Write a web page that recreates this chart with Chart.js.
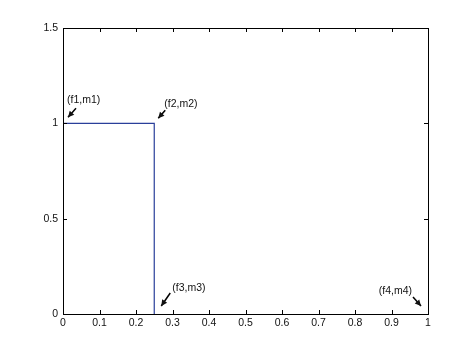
<!DOCTYPE html>
<html>
<head>
<meta charset="utf-8">
<script src="https://cdn.jsdelivr.net/npm/chart.js@4"></script>
<style>
  html, body { margin: 0; padding: 0; background: #fff; }
  #wrap { width: 474px; height: 354px; }
</style>
</head>
<body>
<div id="wrap"><canvas id="plot"></canvas></div>
<script>
// step curve
const freqs = [0, 0.25, 0.25];
const mags = [1, 1, 0];

// labelled corner points
const pointLabels = ['(f1,m1)', '(f2,m2)', '(f3,m3)', '(f4,m4)'];
const pointFreqs = [0, 0.25, 0.25, 1];
const pointMags = [1, 1, 0, 0];

const xTicks = [0, 0.1, 0.2, 0.3, 0.4, 0.5, 0.6, 0.7, 0.8, 0.9, 1];
const yTicks = [0, 0.5, 1, 1.5];

// text / arrow placement relative to each point (pixels)
const labelStyle = [
  { tx: 4, ty: -23, align: 'left', ax0: 13, ay0: -15, ax1: 5, ay1: -6 },
  { tx: 10, ty: -19, align: 'left', ax0: 11, ay0: -13, ax1: 4, ay1: -5 },
  { tx: 18, ty: -26, align: 'left', ax0: 16, ay0: -21, ax1: 7, ay1: -8 },
  { tx: -16, ty: -23, align: 'right', ax0: -15, ay0: -17, ax1: -7, ay1: -8 }
];

const matlabBox = {
  id: 'matlabBox',
  afterDraw(chart) {
    const ctx = chart.ctx;
    const a = chart.chartArea;
    const xs = chart.scales.x, ys = chart.scales.y;
    ctx.save();
    ctx.strokeStyle = '#000';
    ctx.lineWidth = 1;
    ctx.strokeRect(Math.round(a.left) + 0.5, Math.round(a.top) + 0.5,
      Math.round(a.right - a.left), Math.round(a.bottom - a.top));
    ctx.beginPath();
    xTicks.forEach(v => {
      const px = Math.round(xs.getPixelForValue(v)) + 0.5;
      ctx.moveTo(px, a.bottom); ctx.lineTo(px, a.bottom - 4);
      ctx.moveTo(px, a.top); ctx.lineTo(px, a.top + 4);
    });
    yTicks.forEach(v => {
      const py = Math.round(ys.getPixelForValue(v)) + 0.5;
      ctx.moveTo(a.left, py); ctx.lineTo(a.left + 4, py);
      ctx.moveTo(a.right, py); ctx.lineTo(a.right - 4, py);
    });
    ctx.stroke();

    ctx.font = '10.5px "Liberation Sans", Arial, sans-serif';
    ctx.fillStyle = '#111';
    ctx.textBaseline = 'middle';
    pointLabels.forEach((lab, i) => {
      const px = xs.getPixelForValue(pointFreqs[i]);
      const py = ys.getPixelForValue(pointMags[i]);
      const s = labelStyle[i];
      ctx.textAlign = s.align;
      ctx.fillText(lab, px + s.tx, py + s.ty);
      const x0 = px + s.ax0, y0 = py + s.ay0, x1 = px + s.ax1, y1 = py + s.ay1;
      ctx.lineWidth = 1.5;
      ctx.beginPath(); ctx.moveTo(x0, y0); ctx.lineTo(x1, y1); ctx.stroke();
      const ang = Math.atan2(y1 - y0, x1 - x0);
      const h = 6, w = 3;
      ctx.beginPath();
      ctx.moveTo(x1, y1);
      ctx.lineTo(x1 - h * Math.cos(ang) + w * Math.sin(ang), y1 - h * Math.sin(ang) - w * Math.cos(ang));
      ctx.lineTo(x1 - h * Math.cos(ang) - w * Math.sin(ang), y1 - h * Math.sin(ang) + w * Math.cos(ang));
      ctx.closePath();
      ctx.fill();
    });
    ctx.restore();
  }
};

new Chart(document.getElementById('plot'), {
  type: 'line',
  data: {
    datasets: [{
      data: freqs.map((f, i) => ({ x: f, y: mags[i] })),
      borderColor: '#2a3f9a',
      borderWidth: 1.2,
      pointRadius: 0,
      fill: false,
      tension: 0
    }]
  },
  options: {
    responsive: true,
    maintainAspectRatio: false,
    animation: false,
    devicePixelRatio: 1,
    layout: { padding: { left: 0, top: 28, right: 46, bottom: 0 } },
    plugins: { legend: { display: false }, tooltip: { enabled: false } },
    scales: {
      x: {
        type: 'linear',
        min: 0, max: 1,
        afterBuildTicks: s => { s.ticks = xTicks.map(v => ({ value: v })); },
        afterFit: s => { s.height = 40; },
        grid: { display: false, drawTicks: false },
        border: { display: false },
        ticks: {
          color: '#111',
          padding: 3,
          maxRotation: 0,
          autoSkip: false,
          font: { family: '"Liberation Sans", Arial, sans-serif', size: 10.5 },
          callback: v => String(v)
        }
      },
      y: {
        type: 'linear',
        min: 0, max: 1.5,
        afterBuildTicks: s => { s.ticks = yTicks.map(v => ({ value: v })); },
        afterFit: s => { s.width = 63; },
        grid: { display: false, drawTicks: false },
        border: { display: false },
        ticks: {
          color: '#111',
          padding: 5,
          autoSkip: false,
          font: { family: '"Liberation Sans", Arial, sans-serif', size: 10.5 },
          callback: v => String(v)
        }
      }
    }
  },
  plugins: [matlabBox]
});
</script>
</body>
</html>
